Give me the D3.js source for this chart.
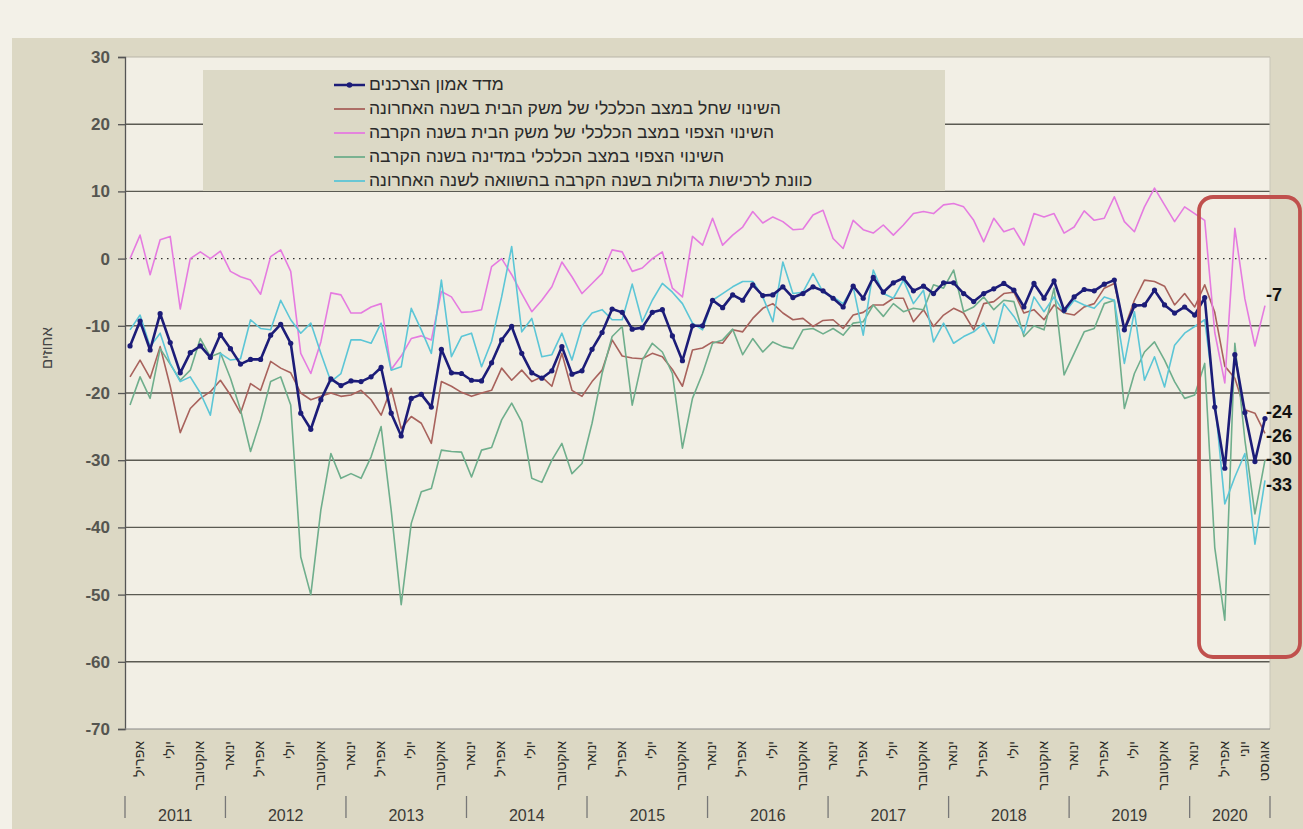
<!DOCTYPE html>
<html><head><meta charset="utf-8">
<script src="https://cdn.jsdelivr.net/npm/d3@7"></script>
<style>body{margin:0;background:#f3f1e8}svg{display:block}</style>
</head><body><svg id="c" width="1303" height="829"></svg>
<script>
// ---- data ----
const monthNames = ["ינואר","פברואר","מרץ","אפריל","מאי","יוני","יולי","אוגוסט","ספטמבר","אוקטובר","נובמבר","דצמבר"];
const years = [2011,2012,2013,2014,2015,2016,2017,2018,2019,2020];
const startMonth = 3, endYear = 2020, endMonth = 8;
const tickMonths = [1,4,7,10]; // Jan, Apr, Jul, Oct
const extraTicks = ["2020-06","2020-08"];
const hiddenTicks = ["2020-07"];

const seriesNames = ["מדד אמון הצרכנים","השינוי שחל במצב הכלכלי של משק הבית בשנה האחרונה","השינוי הצפוי במצב הכלכלי של משק הבית בשנה הקרבה","השינוי הצפוי במצב הכלכלי במדינה בשנה הקרבה","כוונת לרכישות גדולות בשנה הקרבה בהשוואה לשנה האחרונה"];
const seriesColors = ["#1c1c78","#a8625c","#e57be0","#6fae8c","#5cc6d6"];

const confidence = [-13,-9.3,-13.6,-8.2,-12.5,-17,-14,-13,-14.7,-11.3,-13.4,-15.7,-15,-15,-11.4,-9.8,-12.6,-23,-25.4,-21,-17.9,-18.9,-18.2,
 -18.3,-17.6,-16.2,-23,-26.4,-20.8,-20.2,-22.1,-13.5,-17,-17.1,-18.1,-18.2,-15.5,-12.1,-10.1,-14.1,-17,-17.8,-16.7,-13.1,-17.2,
 -16.7,-13.5,-11,-7.5,-8,-10.5,-10.3,-8,-7.6,-11.5,-15.2,-10,-10,-6.2,-7.3,-5.4,-6.2,-3.9,-5.5,-5.4,-4.2,-5.8,-5.2,
 -4.2,-4.8,-5.9,-7.2,-4.1,-5.9,-2.8,-5,-3.6,-2.9,-4.8,-4.1,-5.2,-3.6,-3.6,-5.2,-6.4,-5.2,-4.5,-3.7,-4.7,-7.2,
 -3.7,-5.9,-3.3,-7.7,-5.7,-4.6,-4.8,-3.8,-3.2,-10.6,-7,-6.9,-4.7,-6.9,-8.1,-7.2,-8.4,-5.8,-22.1,-31.2,-14.3,-22.9,-30.2,-23.8];
const householdPast = [-17.6,-15.1,-17.8,-13.1,-19,-25.9,-22.3,-20.8,-19.8,-18.1,-20.3,-23,-18.6,-19.6,-15.3,-16.3,-17,-20,-21,-20.5,-20,-20.5,-20.3,
 -19.6,-21,-23.3,-19.3,-25.3,-23.5,-24.5,-27.5,-18.3,-19,-19.9,-20.5,-20,-19.6,-16.3,-18.1,-16.6,-18.3,-17.6,-19,-14.1,-19.6,
 -20.5,-18.3,-16.6,-12.1,-14.5,-14.8,-14.9,-14.1,-14.6,-16.5,-19,-13.6,-13.3,-12.4,-12.6,-10.6,-10.9,-8.9,-7.4,-6.7,-8.1,-9.1,-8.9,
 -10.1,-9.2,-9.1,-10.4,-8.4,-8,-6.9,-6.9,-5.9,-5.9,-9.4,-7.6,-10.1,-8.4,-7.4,-8.1,-10.6,-6.7,-6.4,-5.2,-5,-8.1,
 -7.6,-9.1,-6.9,-8.1,-8.4,-7.2,-6.7,-4.4,-3.7,-10.4,-6.2,-3.2,-3.4,-4.1,-6.9,-5.2,-7.2,-3.9,-8,-16,-17.8,-22.5,-23,-26];
const householdNext = [0,3.5,-2.4,2.8,3.3,-7.5,0,1,0,1.1,-1.9,-2.7,-3.2,-5.3,0.3,1.3,-1.9,-14.1,-17.1,-12.4,-5.1,-5.4,-8.1,
 -8.1,-7.2,-6.7,-16.5,-14.5,-11.9,-11.5,-12.1,-4.9,-5.7,-8,-7.9,-7.6,-1.2,0,-2.4,-5.2,-7.9,-6.2,-4.2,-0.5,-2.7,
 -5.2,-3.7,-2.2,1.3,1,-1.9,-1.4,0,1,-4.4,-5.7,3.3,2,6,2,3.5,4.7,7,5.3,6.2,5.5,4.3,4.4,
 6.5,7.2,3,1.5,5.7,4.3,3.8,5,3.5,5,6.7,7,6.7,8,8.2,7.7,5.7,2.5,6,4,4.5,2,
 6.7,6.2,6.7,3.8,4.7,7.1,5.7,6,9.2,5.5,4,7.7,10.5,8,5.5,7.7,6.7,5.7,-11,-18.5,4.5,-6,-13,-7];
const countryNext = [-21.8,-17.6,-20.8,-13.4,-15.7,-18.1,-16.6,-11.9,-14.6,-14,-17.8,-22.5,-28.7,-24,-18.3,-17.6,-21.8,-44.4,-50,-37.4,-29,-32.7,-32,
 -32.7,-29.5,-25,-37.4,-51.5,-39.4,-34.7,-34.2,-28.5,-28.7,-28.8,-32.5,-28.5,-28.1,-24,-21.5,-24.3,-32.7,-33.3,-30,-27.5,-32,
 -30.5,-24.5,-17.1,-11.6,-10.1,-21.8,-15.1,-12.6,-13.9,-17.1,-28.2,-20.8,-17.1,-12.6,-12.1,-10.5,-14.3,-11.9,-13.9,-12.4,-13.1,-13.4,-10.6,
 -10.4,-11.2,-10.4,-11.4,-9.6,-9.4,-6.9,-8.6,-6.7,-7.9,-7.4,-7.6,-3.9,-4.4,-1.7,-7.9,-7.2,-5.7,-7.6,-6.2,-6.4,-11.6,
 -10,-10.6,-4.4,-17.3,-14.1,-10.9,-10.4,-6.7,-6.2,-22.3,-17.1,-13.9,-12.4,-15.1,-18.3,-20.8,-20.3,-15.6,-43,-53.8,-12.6,-27,-38,-30];
const bigPurchases = [-10.6,-8.4,-13.1,-11.1,-15.6,-18.3,-17.6,-20,-23.3,-14.1,-15.1,-14.9,-9.1,-10.4,-10.6,-6.2,-9.1,-11.1,-9.6,-14.1,-18.3,-17.1,-12.1,
 -12.1,-12.6,-9.6,-16.6,-16.1,-7.4,-10.6,-14.1,-3.2,-14.6,-11.6,-11.1,-16.1,-12.3,-5.7,1.8,-10.9,-8.9,-14.6,-14.3,-11.1,-15.1,
 -10,-8.1,-7.6,-9.1,-9.1,-3.8,-9.4,-6.2,-3.7,-5,-6.7,-9.6,-10.6,-6.2,-5.2,-4.2,-3.4,-3.4,-5.7,-9.4,-0.5,-5.2,-5,
 -2.2,-5,-5.7,-6.7,-4.2,-11.4,-1.7,-5.2,-5.9,-3.2,-6.7,-4.7,-12.4,-9.6,-12.6,-11.6,-10.9,-9.6,-12.6,-6.7,-8.6,-11.1,
 -5.7,-7.9,-5.7,-8.1,-6.2,-6.9,-7.4,-5.7,-6.2,-15.6,-7.9,-18.1,-14.6,-19.1,-12.9,-11.1,-10.1,-9.1,-21,-36.5,-32.5,-29,-42.5,-33];
const yTicks = [30,20,10,0,-10,-20,-30,-40,-50,-60,-70];
const endLabels = ["-7","-24","-26","-30","-33"];
const endValues = [-7,-24,-26,-30,-33];
const yTitle = "אחוזים";

// categories
const categories = [];
for (const y of years) for (let m = 1; m <= 12; m++) {
  if (y === years[0] && m < startMonth) continue;
  if (y === endYear && m > endMonth) continue;
  categories.push({key: y + "-" + String(m).padStart(2,"0"), y, m});
}
const allSeries = [confidence, householdPast, householdNext, countryNext, bigPurchases];
const drawOrder = [1,2,3,4,0];

// ---- layout ----
const FONT = "Liberation Sans, Arial, sans-serif";
const svg = d3.select("#c");
const L = 125, R = 1270, T = 57, B = 729;
svg.append("rect").attr("x",0).attr("y",0).attr("width",1303).attr("height",829).attr("fill","#f3f1e8");
svg.append("rect").attr("x",12).attr("y",38).attr("width",1291).attr("height",791).attr("fill","#dcd8c4");

const x = d3.scaleBand().domain(categories.map(d=>d.key)).range([L,R]).paddingInner(0).paddingOuter(0);
const cx = k => x(k) + x.bandwidth()/2;
const y = d3.scaleLinear().domain([-70,30]).range([B,T]);

svg.append("rect").attr("x",L).attr("y",T).attr("width",R-L).attr("height",B-T).attr("fill","#f2efe5");

// gridlines
const g = svg.append("g");
yTicks.filter(v=>v!==0 && v!==-70).forEach(v=>{
  g.append("line").attr("x1",L).attr("x2",R).attr("y1",y(v)).attr("y2",y(v))
   .attr("stroke", v===30 ? "#b8b5a8" : "#5b5a52").attr("stroke-width", v===30?1:1.4);
});
g.append("line").attr("x1",L).attr("x2",R).attr("y1",y(0)).attr("y2",y(0))
 .attr("stroke","#333").attr("stroke-width",1.3).attr("stroke-dasharray","1.5,4.5");
svg.append("line").attr("x1",R).attr("x2",R).attr("y1",T).attr("y2",B).attr("stroke","#c8c5b8").attr("stroke-width",1);

// y axis
const yAxis = d3.axisLeft(y).tickValues(yTicks).tickSize(7).tickPadding(8).tickFormat(d=>d);
const ya = svg.append("g").attr("transform",`translate(${L},0)`).call(yAxis);
ya.select(".domain").attr("stroke","#555").attr("stroke-width",1.3);
ya.selectAll(".tick line").attr("stroke","#555").attr("stroke-width",1.3);
ya.selectAll("text").attr("font-family",FONT).attr("font-size",17).attr("font-weight","bold").attr("fill","#555550");
svg.append("text").attr("transform",`translate(48,${(T+B)/2-45}) rotate(-90)`).attr("text-anchor","middle").attr("dominant-baseline","middle")
 .attr("font-family",FONT).attr("font-size",15).attr("fill","#444").text(yTitle);

// x axis
svg.append("line").attr("x1",L).attr("x2",R).attr("y1",B).attr("y2",B).attr("stroke","#888").attr("stroke-width",1.2);
const labeled = categories.filter(d => !hiddenTicks.includes(d.key) && (tickMonths.includes(d.m) || extraTicks.includes(d.key)));
svg.append("g").selectAll("text").data(labeled).join("text")
 .attr("transform", d=>`translate(${cx(d.key)},${B+12}) rotate(-90)`)
 .attr("text-anchor","end").attr("dominant-baseline","middle")
 .attr("font-family",FONT).attr("font-size",14).attr("fill","#2e2e2a")
 .text(d=>monthNames[d.m-1]);
years.forEach(yr=>{
  const ks = categories.filter(d=>d.y===yr);
  const x0 = x(ks[0].key), x1 = x(ks[ks.length-1].key) + x.bandwidth();
  svg.append("line").attr("x1",x0).attr("x2",x0).attr("y1",796).attr("y2",818).attr("stroke","#777").attr("stroke-width",1.3);
  svg.append("text").attr("x",(x0+x1)/2).attr("y",821).attr("text-anchor","middle")
   .attr("font-family",FONT).attr("font-size",16).attr("fill","#3a3a36").text(yr);
});
svg.append("line").attr("x1",R).attr("x2",R).attr("y1",796).attr("y2",818).attr("stroke","#777").attr("stroke-width",1.3);

// lines
const line = d3.line().x((d,i)=>cx(categories[i].key)).y(d=>y(d));
drawOrder.forEach(si=>{
  svg.append("path").attr("d", line(allSeries[si])).attr("fill","none")
   .attr("stroke", seriesColors[si]).attr("stroke-width", si===0?2.6:1.6).attr("stroke-linejoin","round");
});
svg.append("g").selectAll("circle").data(confidence).join("circle")
 .attr("cx",(d,i)=>cx(categories[i].key)).attr("cy",d=>y(d)).attr("r",2.6).attr("fill",seriesColors[0]);

// legend
const lg = svg.append("g");
lg.append("rect").attr("x",203).attr("y",70).attr("width",742).attr("height",121).attr("fill","#dcd9c6");
const rowY = d3.scalePoint().domain(d3.range(seriesNames.length)).range([85,181]);
seriesNames.forEach((nm,i)=>{
  const yy = rowY(i);
  lg.append("line").attr("x1",334).attr("x2",365).attr("y1",yy).attr("y2",yy).attr("stroke",seriesColors[i]).attr("stroke-width", i===0?2.5:1.8);
  if (i===0) lg.append("circle").attr("cx",349.5).attr("cy",yy).attr("r",2.8).attr("fill",seriesColors[0]);
  lg.append("text").attr("x", 369).attr("y",yy).attr("dominant-baseline","middle").attr("text-anchor","start")
   .attr("font-family",FONT).attr("font-size",17.5).attr("fill","#2a2a2a").text(nm);
});

// highlight box
svg.append("rect").attr("x",1199).attr("y",197).attr("width",101).attr("height",460).attr("rx",14)
 .attr("fill","none").attr("stroke","#c0504d").attr("stroke-width",3.8);
// end labels
const endNudge = [-9,-7,4,0,6];
svg.append("g").selectAll("text").data(endLabels).join("text")
 .attr("x", 1266).attr("y",(d,i)=>y(endValues[i]) + endNudge[i]).attr("dominant-baseline","middle")
 .attr("font-family",FONT).attr("font-size",18).attr("font-weight","bold").attr("fill","#111").text(d=>d);
</script></body></html>
